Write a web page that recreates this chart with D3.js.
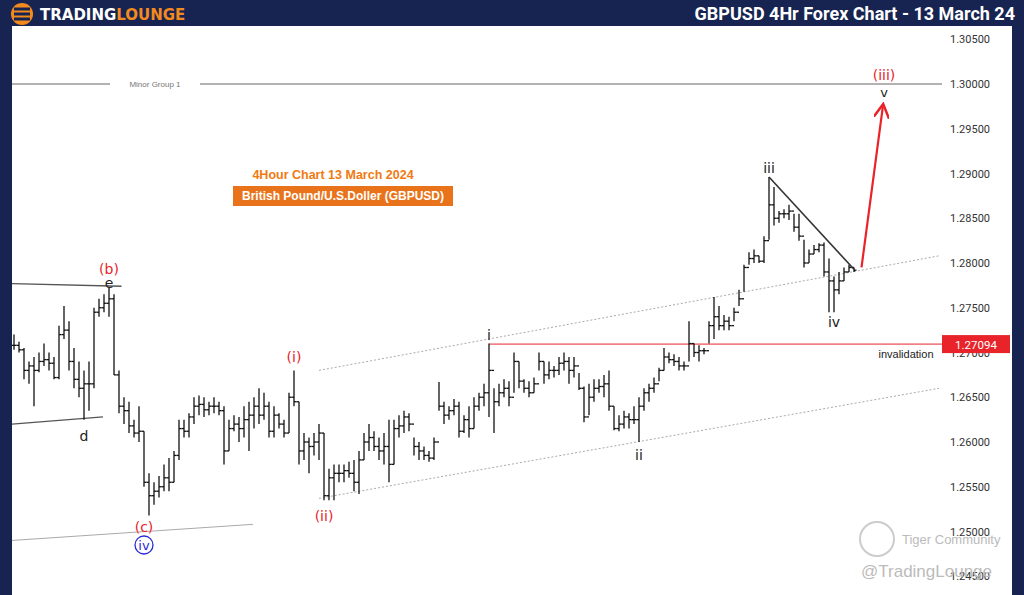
<!DOCTYPE html>
<html><head><meta charset="utf-8">
<script src="https://cdn.jsdelivr.net/npm/d3@7"></script>
<style>body{margin:0;background:#fff}svg{display:block;font-family:"Liberation Sans",Arial,sans-serif}</style>
</head><body>
<script>
// bar highs / lows / closes (4h GBPUSD), open = previous close
const highs = [1.2720,1.2712,1.2705,1.2690,1.2695,1.2700,1.2710,1.2700,1.2695,1.2730,1.2752,1.2735,1.2705,1.2690,1.2680,1.2690,1.2750,1.2760,1.2765,1.2772,
 1.2765,1.2680,1.2650,1.2645,1.2625,1.2640,1.2612,1.2565,1.2555,1.2562,1.2575,1.2582,1.2590,1.2625,1.2625,1.2632,1.2650,1.2652,1.2650,1.2645,
 1.2650,1.2645,1.2640,1.2625,1.2630,1.2628,1.2640,1.2645,1.2650,1.2660,1.2655,1.2645,1.2640,1.2632,1.2625,1.2655,1.2680,1.2645,1.2610,1.2605,
 1.2610,1.2620,1.2610,1.2570,1.2575,1.2575,1.2575,1.2578,1.2580,1.2590,1.2610,1.2620,1.2612,1.2605,1.2610,1.2625,1.2625,1.2630,1.2635,1.2632,
 1.2605,1.2600,1.2595,1.2590,1.2605,1.2667,1.2645,1.2640,1.2648,1.2645,1.2630,1.2640,1.2650,1.2655,1.2665,1.2710,1.2660,1.2665,1.2670,1.2668,
 1.2700,1.2690,1.2670,1.2668,1.2672,1.2700,1.2690,1.2690,1.2685,1.2695,1.2700,1.2695,1.2695,1.2677,1.2662,1.2665,1.2670,1.2670,1.2675,1.2680,
 1.2640,1.2630,1.2635,1.2632,1.2640,1.2650,1.2660,1.2665,1.2672,1.2683,1.2705,1.2700,1.2698,1.2695,1.2690,1.2735,1.2710,1.2708,1.2705,1.2735,
 1.2762,1.2752,1.2742,1.2740,1.2750,1.2770,1.2798,1.2812,1.2815,1.2808,1.2830,1.2896,1.2885,1.2858,1.2860,1.2865,1.2855,1.2855,1.2826,1.2815,
 1.2820,1.2822,1.2823,1.2805,1.2785,1.2790,1.2795,1.2798,1.2795];
const lows = [1.2703,1.2700,1.2670,1.2665,1.2640,1.2678,1.2685,1.2680,1.2670,1.2670,1.2715,1.2680,1.2660,1.2650,1.2625,1.2635,1.2660,1.2740,1.2745,1.2740,
 1.2675,1.2632,1.2620,1.2610,1.2605,1.2600,1.2550,1.2518,1.2530,1.2538,1.2545,1.2545,1.2555,1.2580,1.2605,1.2605,1.2620,1.2630,1.2628,1.2630,
 1.2632,1.2630,1.2575,1.2590,1.2612,1.2600,1.2605,1.2590,1.2615,1.2620,1.2625,1.2605,1.2605,1.2615,1.2605,1.2610,1.2640,1.2575,1.2580,1.2565,
 1.2585,1.2580,1.2535,1.2535,1.2535,1.2555,1.2555,1.2560,1.2545,1.2542,1.2580,1.2590,1.2590,1.2580,1.2575,1.2555,1.2575,1.2605,1.2610,1.2612,
 1.2585,1.2580,1.2580,1.2578,1.2580,1.2635,1.2620,1.2625,1.2630,1.2605,1.2610,1.2605,1.2615,1.2635,1.2640,1.2628,1.2610,1.2640,1.2650,1.2640,
 1.2655,1.2660,1.2655,1.2650,1.2655,1.2680,1.2665,1.2670,1.2672,1.2675,1.2680,1.2665,1.2672,1.2658,1.2622,1.2630,1.2645,1.2655,1.2650,1.2635,
 1.2613,1.2612,1.2615,1.2615,1.2620,1.2600,1.2635,1.2645,1.2655,1.2668,1.2680,1.2688,1.2685,1.2680,1.2680,1.2690,1.2695,1.2690,1.2698,1.2710,
 1.2715,1.2725,1.2725,1.2725,1.2735,1.2752,1.2768,1.2798,1.2800,1.2800,1.2800,1.2826,1.2842,1.2845,1.2850,1.2848,1.2835,1.2825,1.2795,1.2800,
 1.2810,1.2812,1.2785,1.2745,1.2745,1.2765,1.2780,1.2790,1.2790];
const closes = [1.2708,1.2703,1.2680,1.2685,1.2680,1.2690,1.2692,1.2688,1.2672,1.2720,1.2725,1.2690,1.2670,1.2660,1.2665,1.2665,1.2745,1.2750,1.2755,1.2760,
 1.2675,1.2640,1.2635,1.2618,1.2610,1.2612,1.2555,1.2540,1.2545,1.2550,1.2560,1.2555,1.2585,1.2615,1.2612,1.2628,1.2640,1.2642,1.2636,1.2640,
 1.2640,1.2635,1.2590,1.2615,1.2620,1.2615,1.2625,1.2630,1.2640,1.2630,1.2640,1.2612,1.2630,1.2620,1.2610,1.2650,1.2645,1.2590,1.2600,1.2595,
 1.2600,1.2610,1.2540,1.2560,1.2565,1.2565,1.2568,1.2565,1.2555,1.2580,1.2600,1.2605,1.2595,1.2590,1.2595,1.2575,1.2615,1.2618,1.2628,1.2620,
 1.2595,1.2590,1.2585,1.2582,1.2600,1.2640,1.2630,1.2635,1.2640,1.2612,1.2625,1.2615,1.2640,1.2650,1.2655,1.2680,1.2645,1.2655,1.2660,1.2650,
 1.2690,1.2668,1.2660,1.2655,1.2665,1.2690,1.2675,1.2680,1.2680,1.2688,1.2690,1.2680,1.2685,1.2660,1.2628,1.2650,1.2660,1.2662,1.2665,1.2640,
 1.2615,1.2620,1.2628,1.2625,1.2625,1.2640,1.2655,1.2660,1.2665,1.2680,1.2695,1.2692,1.2690,1.2685,1.2685,1.2710,1.2700,1.2702,1.2702,1.2730,
 1.2740,1.2730,1.2735,1.2730,1.2745,1.2760,1.2795,1.2805,1.2808,1.2802,1.2825,1.2865,1.2850,1.2855,1.2855,1.2858,1.2840,1.2830,1.2800,1.2810,
 1.2815,1.2820,1.2790,1.2780,1.2770,1.2780,1.2790,1.2795,1.2792];
const priceTicks = [1.305,1.30,1.295,1.29,1.285,1.28,1.275,1.27,1.265,1.26,1.255,1.25,1.245];
const invalidation = 1.27094;
const minorGroup = 1.30;
// wave labels: [bar index, price, text, colour]
const waveLabels = [
  [19,1.2788,"(b)","#e8242a"],[19,1.2772,"e","#222"],[14,1.2601,"d","#222"],
  [26,1.2500,"(c)","#e8242a"],[56,1.2689,"(i)","#e8242a"],[62,1.2512,"(ii)","#e8242a"],
  [95,1.2714,"i","#222"],[125,1.2580,"ii","#222"],[151,1.2901,"iii","#222"],[164,1.2728,"iv","#222"]
];
// lines in (bar index, price)
const upperChannel = [[61,1.2680],[185,1.2808]];
const lowerChannel = [[61,1.2537],[185,1.2660]];
const triTop = [[-0.4,1.2777],[21.5,1.2774]];
const triBottom = [[-0.4,1.2620],[17.8,1.2628]];
const ivBase = [[-0.4,1.2490],[47.8,1.2508]];
const wave4Line = [[151,1.2896],[168,1.2793]];
const projection = [[169.5,1.2795],[173.8,1.2976]];

const W = 1024, H = 595;
const svg = d3.select('body').append('svg').attr('width', W).attr('height', H);
const x = d3.scaleLinear().domain([0, closes.length - 1]).range([14, 854]);
const y = d3.scaleLinear().domain([1.30, 1.29]).range([84, 173.5]);

svg.append('rect').attr('width', W).attr('height', H).attr('fill', '#fff');

// price axis
const axis = d3.axisRight(y).tickValues(priceTicks).tickFormat(d3.format('.5f')).tickSize(0);
const ax = svg.append('g').attr('transform', 'translate(950,0)').call(axis);
ax.select('.domain').remove();
ax.selectAll('text').attr('x', 0).attr('dx', 0).attr('font-size', 11).attr('fill', '#333')
  .attr('font-family', 'Roboto, sans-serif');

// minor group line
svg.append('line').attr('x1', 12).attr('x2', 942).attr('y1', y(minorGroup)).attr('y2', y(minorGroup))
  .attr('stroke', '#666').attr('stroke-width', 1);
svg.append('rect').attr('x', 110).attr('y', y(minorGroup) - 5).attr('width', 90).attr('height', 10).attr('fill', '#fff');
svg.append('text').attr('x', 155).attr('y', y(minorGroup) + 3).attr('text-anchor', 'middle')
  .attr('font-size', 8).attr('fill', '#777').text('Minor Group 1');

const line = d3.line().x(d => x(d[0])).y(d => y(d[1]));
[upperChannel, lowerChannel].forEach(l => svg.append('path').attr('d', line(l))
  .attr('stroke', '#aaa').attr('stroke-dasharray', '2,2').attr('fill', 'none'));
[triTop, triBottom].forEach(l => svg.append('path').attr('d', line(l)).attr('stroke', '#555').attr('stroke-width', 1.3).attr('fill', 'none'));
svg.append('path').attr('d', line(ivBase)).attr('stroke', '#aaa').attr('fill', 'none');

// invalidation
svg.append('line').attr('x1', x(95)).attr('x2', 942).attr('y1', y(invalidation)).attr('y2', y(invalidation))
  .attr('stroke', '#e8242a').attr('stroke-width', 1);

// OHLC bars
const bars = svg.append('g').attr('stroke', '#111').attr('stroke-width', 1.3);
closes.forEach((c, i) => {
  const o = i === 0 ? c : closes[i - 1];
  const g = bars.append('g');
  g.append('line').attr('x1', x(i)).attr('x2', x(i)).attr('y1', y(highs[i])).attr('y2', y(lows[i]));
  g.append('line').attr('x1', x(i) - 2.5).attr('x2', x(i)).attr('y1', y(o)).attr('y2', y(o));
  g.append('line').attr('x1', x(i)).attr('x2', x(i) + 2.5).attr('y1', y(c)).attr('y2', y(c));
});

svg.append('path').attr('d', line(wave4Line)).attr('stroke', '#333').attr('stroke-width', 1.6).attr('fill', 'none');

// projection arrow
svg.append('defs').append('marker').attr('id', 'ah').attr('viewBox', '0 0 10 10').attr('refX', 8).attr('refY', 5)
  .attr('markerWidth', 7).attr('markerHeight', 7).attr('orient', 'auto')
  .append('path').attr('d', 'M0,0 L9,5 L0,10').attr('fill', 'none').attr('stroke', '#e8242a').attr('stroke-width', 1.6);
svg.append('path').attr('d', line(projection)).attr('stroke', '#e8242a').attr('stroke-width', 2.2)
  .attr('fill', 'none').attr('marker-end', 'url(#ah)');

// wave labels
waveLabels.forEach(d => svg.append('text').attr('x', x(d[0])).attr('y', y(d[1])).attr('text-anchor', 'middle')
  .attr('font-size', 14).attr('fill', d[3]).attr('font-family', 'DejaVu Sans, sans-serif').text(d[2]));
svg.append('circle').attr('cx', x(26)).attr('cy', 545).attr('r', 9).attr('fill', 'none').attr('stroke', '#2a2ad8').attr('stroke-width', 1.3);
svg.append('text').attr('x', x(26)).attr('y', 550).attr('text-anchor', 'middle').attr('font-size', 13).attr('fill', '#2a2ad8')
  .attr('font-family', 'DejaVu Sans, sans-serif').text('iv');
svg.append('text').attr('x', 884).attr('y', 80).attr('text-anchor', 'middle').attr('font-size', 14).attr('fill', '#e8242a')
  .attr('font-family', 'DejaVu Sans, sans-serif').text('(iii)');
svg.append('text').attr('x', 884).attr('y', 97).attr('text-anchor', 'middle').attr('font-size', 13).attr('fill', '#222')
  .attr('font-family', 'DejaVu Sans, sans-serif').text('v');

svg.append('text').attr('x', 906).attr('y', 358).attr('text-anchor', 'middle').attr('font-size', 11).attr('fill', '#222')
  .text('invalidation');

// titles
svg.append('text').attr('x', 333).attr('y', 179).attr('text-anchor', 'middle').attr('font-size', 12.5).attr('font-weight', 'bold')
  .attr('fill', '#f07a12').text('4Hour Chart 13 March 2024');
svg.append('rect').attr('x', 233).attr('y', 186).attr('width', 220).attr('height', 20).attr('fill', '#e8731a');
svg.append('text').attr('x', 343).attr('y', 200).attr('text-anchor', 'middle').attr('font-size', 12).attr('font-weight', 'bold')
  .attr('fill', '#fff').text('British Pound/U.S.Doller (GBPUSD)');

// price label
svg.append('rect').attr('x', 942).attr('y', y(invalidation) - 9).attr('width', 68).attr('height', 18).attr('fill', '#e8242a');
svg.append('text').attr('x', 976).attr('y', y(invalidation) + 4.5).attr('text-anchor', 'middle').attr('font-size', 11.5)
  .attr('fill', '#fff').attr('font-family', 'Roboto, sans-serif').text(invalidation.toFixed(5));

// watermark
svg.append('circle').attr('cx', 877).attr('cy', 539).attr('r', 17).attr('fill', 'none').attr('stroke', '#ccc').attr('stroke-width', 2);
svg.append('text').attr('x', 902).attr('y', 544).attr('font-size', 13).attr('fill', '#bbb').text('Tiger Community');
svg.append('text').attr('x', 861).attr('y', 577).attr('font-size', 17).attr('fill', '#bbb').text('@TradingLounge');

// frame strips + header
const navy = '#172451';
svg.append('rect').attr('x', 0).attr('y', 0).attr('width', 12).attr('height', H).attr('fill', navy);
svg.append('rect').attr('x', 1012).attr('y', 0).attr('width', 12).attr('height', H).attr('fill', navy);
svg.append('rect').attr('x', 0).attr('y', 0).attr('width', W).attr('height', 26).attr('fill', navy);
svg.append('circle').attr('cx', 22).attr('cy', 14).attr('r', 11).attr('fill', '#f28a1e');
[9, 14, 19].forEach(v => svg.append('rect').attr('x', 14).attr('y', v - 1.5).attr('width', 16).attr('height', 3).attr('fill', navy));
svg.append('text').attr('x', 40).attr('y', 20).attr('font-size', 15).attr('font-weight', 'bold').attr('fill', '#fff')
  .attr('font-family', 'DejaVu Sans, sans-serif')
  .call(t => { t.append('tspan').text('TRADING'); t.append('tspan').attr('fill', '#f28a1e').text('LOUNGE'); });
svg.append('text').attr('x', 1015).attr('y', 20).attr('text-anchor', 'end').attr('font-size', 18).attr('font-weight', 'bold')
  .attr('fill', '#fff').attr('font-family', 'Roboto, sans-serif').text('GBPUSD 4Hr Forex Chart - 13 March 24');
</script>
</body></html>
